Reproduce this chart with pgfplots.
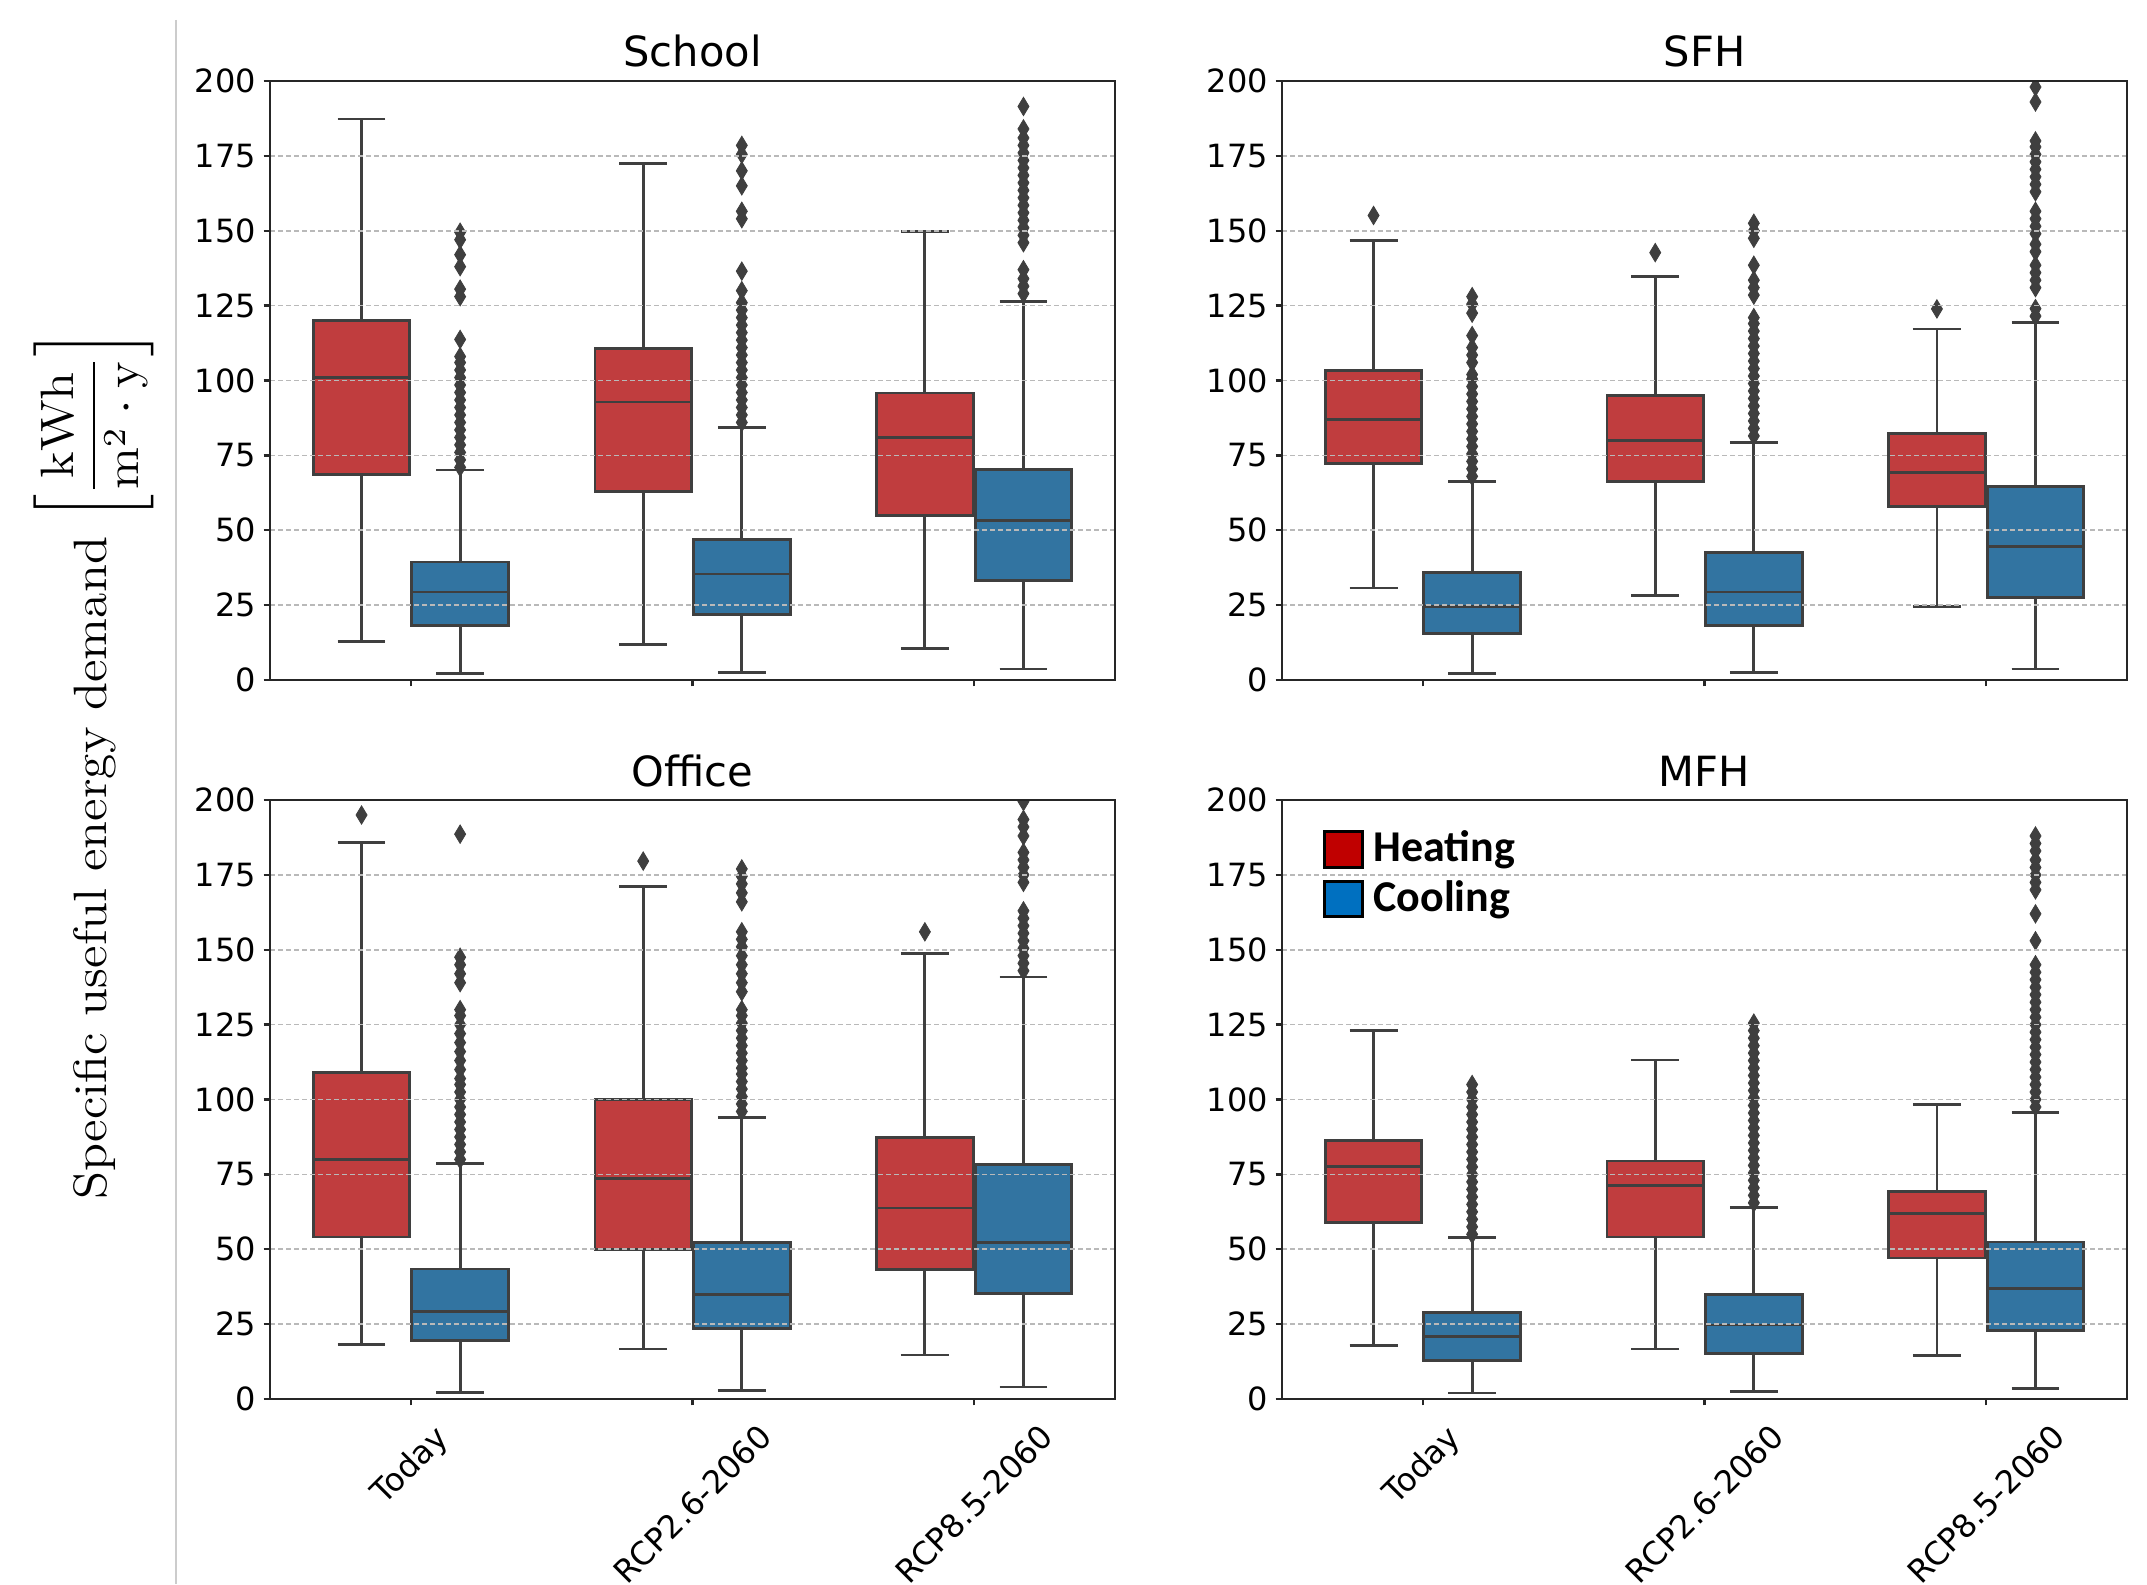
\documentclass[border=0pt]{standalone}
\usepackage{fontspec}
\usepackage{graphicx}
\usepackage{pgfplots}
\usepgfplotslibrary{statistics}
\pgfplotsset{compat=1.18}
\newfontfamily\dejavu{DejaVu Sans}
\newfontfamily\carlito{Carlito}
\definecolor{hred}{HTML}{C03D3E}
\definecolor{cblue}{HTML}{3274A1}
\definecolor{edge}{HTML}{3F3F3F}
\definecolor{legred}{HTML}{C00000}
\definecolor{legblue}{HTML}{0070C0}

\pgfplotsset{
  panel/.style={
    scale only axis, width=211.25pt, height=149.75pt,
    anchor=north west,
    xmin=-0.5, xmax=2.5, ymin=0, ymax=200,
    xtick={0,1,2}, ytick={0,25,...,200},
    tick pos=left,
    tick align=outside, major tick length=1.6pt,
    tick style={black!85, line width=0.6pt},
    axis line style={black!85, line width=0.7pt},
    ymajorgrids, grid style={gray!55, line width=0.4pt, dash pattern=on 1.3pt off 0.7pt},
    axis on top,
    clip marker paths=true,
    /pgf/number format/assume math mode=true,
    yticklabel style={font=\dejavu\fontsize{8}{9}\selectfont, inner sep=0pt, xshift=-1.7pt},
    xticklabel style={font=\dejavu\fontsize{8}{9}\selectfont, inner sep=0pt, anchor=north, yshift=-4.1pt},
    every axis title/.style={font=\dejavu\fontsize{10.4}{12}\selectfont, at={(0.5,1)}, anchor=base, inner sep=0pt, yshift=3.5pt},
  },
  bp/.style={draw=edge, line width=0.7pt, solid, forget plot,
    mark=diamond*, mark size=2.3pt,
    mark options={fill=edge, draw=edge, line width=0.2pt, xscale=0.8},
    /pgfplots/boxplot/draw direction=y,
    /pgfplots/boxplot/box extend=0.343, /pgfplots/boxplot/whisker extend=0.17},
}

\begin{document}
\begin{tikzpicture}
\useasboundingbox (0pt,0pt) rectangle (536.75pt,-396pt);
\draw[black!20, line width=0.4pt] (44pt,-5pt) -- (44pt,-396pt);
\node[rotate=90, inner sep=0pt] at (23.5pt,-191.25pt) {\scalebox{1.1}[1]{\fontsize{11.7}{14}\selectfont Specific useful energy demand $\displaystyle\left[\frac{\mathrm{kWh}}{\mathrm{m}^2\cdot\mathrm{y}}\right]$}};

% ---------------- School ----------------
\begin{axis}[panel, at={(67.5pt,-20.25pt)}, title={School}, xticklabels={,,}]
\addplot[bp, fill=hred, boxplot prepared={draw position=-0.175, lower whisker=12.8, lower quartile=68.7, median=101, upper quartile=120, upper whisker=187.3}] coordinates {};
\addplot[bp, fill=cblue, boxplot prepared={draw position=0.175, lower whisker=2.1, lower quartile=18.2, median=29.4, upper quartile=39.4, upper whisker=70.1}] table[row sep=\\, y index=0] {v\\ 71\\ 73.5\\ 76\\ 78.5\\ 81\\ 83.5\\ 86\\ 88.5\\ 91\\ 93.5\\ 96\\ 98.5\\ 101\\ 103.5\\ 106\\ 108\\ 113.7\\ 128\\ 130.5\\ 138\\ 142\\ 147\\ 149.5\\};
\addplot[bp, fill=hred, boxplot prepared={draw position=0.825, lower whisker=11.9, lower quartile=63, median=92.8, upper quartile=110.7, upper whisker=172.4}] coordinates {};
\addplot[bp, fill=cblue, boxplot prepared={draw position=1.175, lower whisker=2.5, lower quartile=21.9, median=35.4, upper quartile=47, upper whisker=84.2}] table[row sep=\\, y index=0] {v\\ 86\\ 88.5\\ 91\\ 93.5\\ 96\\ 98.5\\ 101\\ 103.5\\ 106\\ 108.5\\ 111\\ 113.5\\ 116\\ 118.5\\ 121\\ 123.5\\ 126\\ 130\\ 136.5\\ 154\\ 156.5\\ 165\\ 170\\ 175.5\\ 178.5\\};
\addplot[bp, fill=hred, boxplot prepared={draw position=1.825, lower whisker=10.4, lower quartile=54.8, median=80.9, upper quartile=95.8, upper whisker=149.7}] coordinates {};
\addplot[bp, fill=cblue, boxplot prepared={draw position=2.175, lower whisker=3.7, lower quartile=33.1, median=53.3, upper quartile=70.4, upper whisker=126.3}] table[row sep=\\, y index=0] {v\\ 129\\ 131.5\\ 134\\ 137\\ 146\\ 148.5\\ 151\\ 153.5\\ 156\\ 158.5\\ 161\\ 163.5\\ 166\\ 168.5\\ 171\\ 173.5\\ 176\\ 178.5\\ 181\\ 184\\ 191.5\\};
\end{axis}

% ---------------- SFH ----------------
\begin{axis}[panel, at={(320.5pt,-20.25pt)}, title={SFH}, xticklabels={,,}]
\addplot[bp, fill=hred, boxplot prepared={draw position=-0.175, lower whisker=30.7, lower quartile=72.4, median=86.9, upper quartile=103.3, upper whisker=146.7}] table[row sep=\\, y index=0] {v\\ 155.1\\};
\addplot[bp, fill=cblue, boxplot prepared={draw position=0.175, lower whisker=2.1, lower quartile=15.5, median=24.5, upper quartile=35.8, upper whisker=66.3}] table[row sep=\\, y index=0] {v\\ 68\\ 70.5\\ 73\\ 75.5\\ 78\\ 80.5\\ 83\\ 85.5\\ 88\\ 90.5\\ 93\\ 95.5\\ 98\\ 100.5\\ 102\\ 106\\ 108.5\\ 111\\ 115\\ 122.5\\ 125.5\\ 128\\};
\addplot[bp, fill=hred, boxplot prepared={draw position=0.825, lower whisker=28.2, lower quartile=66.4, median=79.9, upper quartile=94.9, upper whisker=134.8}] table[row sep=\\, y index=0] {v\\ 142.7\\};
\addplot[bp, fill=cblue, boxplot prepared={draw position=1.175, lower whisker=2.5, lower quartile=18.2, median=29.4, upper quartile=42.7, upper whisker=79.4}] table[row sep=\\, y index=0] {v\\ 81.5\\ 84\\ 86.5\\ 89\\ 91.5\\ 94\\ 96.5\\ 99\\ 101.5\\ 104\\ 106.5\\ 109\\ 111.5\\ 114\\ 116.5\\ 119\\ 121\\ 128.5\\ 131\\ 133.5\\ 138.5\\ 147.5\\ 150\\ 152.5\\};
\addplot[bp, fill=hred, boxplot prepared={draw position=1.825, lower whisker=24.6, lower quartile=57.9, median=69.4, upper quartile=82.4, upper whisker=117.2}] table[row sep=\\, y index=0] {v\\ 123.9\\};
\addplot[bp, fill=cblue, boxplot prepared={draw position=2.175, lower whisker=3.7, lower quartile=27.6, median=44.5, upper quartile=64.5, upper whisker=119.4}] table[row sep=\\, y index=0] {v\\ 121.5\\ 124\\ 131\\ 133.5\\ 136\\ 138.5\\ 143\\ 145.5\\ 149\\ 151.5\\ 154\\ 156.5\\ 163\\ 165.5\\ 168\\ 170.5\\ 173\\ 175.5\\ 178\\ 180\\ 193\\ 198\\ 200.5\\};
\end{axis}

% ---------------- Office ----------------
\begin{axis}[panel, at={(67.5pt,-200pt)}, title={Office},
  xticklabels={\rotatebox{45}{Today},\rotatebox{45}{RCP2.6-2060},\rotatebox{45}{RCP8.5-2060}}]
\addplot[bp, fill=hred, boxplot prepared={draw position=-0.175, lower whisker=18.2, lower quartile=54.1, median=79.9, upper quartile=108.9, upper whisker=185.8}] table[row sep=\\, y index=0] {v\\ 195\\};
\addplot[bp, fill=cblue, boxplot prepared={draw position=0.175, lower whisker=2.2, lower quartile=19.5, median=29.1, upper quartile=43.4, upper whisker=78.6}] table[row sep=\\, y index=0] {v\\ 80\\ 82.5\\ 85\\ 87.5\\ 90\\ 92.5\\ 95\\ 97.5\\ 100\\ 102.5\\ 105\\ 107\\ 110\\ 113\\ 116\\ 119\\ 122\\ 125\\ 128\\ 130\\ 139\\ 142\\ 145\\ 147.5\\ 188.6\\};
\addplot[bp, fill=hred, boxplot prepared={draw position=0.825, lower whisker=16.7, lower quartile=50, median=73.6, upper quartile=100.1, upper whisker=171.2}] table[row sep=\\, y index=0] {v\\ 179.6\\};
\addplot[bp, fill=cblue, boxplot prepared={draw position=1.175, lower whisker=2.8, lower quartile=23.6, median=35, upper quartile=52.3, upper whisker=94}] table[row sep=\\, y index=0] {v\\ 96\\ 98.5\\ 101\\ 103.5\\ 106\\ 108.5\\ 110.5\\ 113\\ 115.5\\ 118\\ 120.5\\ 123\\ 125.5\\ 128\\ 130\\ 136\\ 139\\ 142\\ 145\\ 148\\ 151\\ 153.5\\ 156\\ 166\\ 169\\ 172\\ 174.5\\ 177\\};
\addplot[bp, fill=hred, boxplot prepared={draw position=1.825, lower whisker=14.7, lower quartile=43.2, median=63.8, upper quartile=87.2, upper whisker=148.7}] table[row sep=\\, y index=0] {v\\ 156\\};
\addplot[bp, fill=cblue, boxplot prepared={draw position=2.175, lower whisker=4, lower quartile=35.3, median=52.3, upper quartile=78.2, upper whisker=140.9}] table[row sep=\\, y index=0] {v\\ 143\\ 145.5\\ 148\\ 150.5\\ 153\\ 155.5\\ 158\\ 160.5\\ 163\\ 172.5\\ 175\\ 177.5\\ 180\\ 182.5\\ 188\\ 191\\ 193.5\\ 199.5\\};
\end{axis}

% ---------------- MFH ----------------
\begin{axis}[panel, at={(320.5pt,-200pt)}, title={MFH},
  xticklabels={\rotatebox{45}{Today},\rotatebox{45}{RCP2.6-2060},\rotatebox{45}{RCP8.5-2060}},
  legend image code/.code={\draw[#1, draw=black, line width=0.75pt] (0pt,-4.4pt) rectangle (9.6pt,4.4pt);},
  legend cell align=left,
  legend style={at={(0,1)}, anchor=north west, xshift=10.2pt, yshift=-7.6pt, draw=none, fill=none,
    inner sep=0pt, outer sep=0pt, row sep=2.8pt, column sep=2.3pt,
    nodes={inner sep=0pt, outer sep=0pt},
    font=\carlito\bfseries\fontsize{11}{12}\selectfont}]
\addplot[bp, fill=hred, boxplot prepared={draw position=-0.175, lower whisker=17.8, lower quartile=58.9, median=77.6, upper quartile=86.4, upper whisker=123.1}] coordinates {};
\addplot[bp, fill=cblue, boxplot prepared={draw position=0.175, lower whisker=2.0, lower quartile=12.9, median=20.8, upper quartile=29, upper whisker=53.9}] table[row sep=\\, y index=0] {v\\ 55\\ 57.5\\ 60\\ 62.5\\ 65\\ 67.5\\ 70\\ 72.5\\ 75\\ 77.5\\ 80\\ 82.5\\ 85\\ 87.5\\ 90\\ 92.5\\ 95\\ 97.5\\ 100\\ 102.5\\ 105\\};
\addplot[bp, fill=hred, boxplot prepared={draw position=0.825, lower whisker=16.7, lower quartile=54.1, median=71.2, upper quartile=79.5, upper whisker=113.2}] coordinates {};
\addplot[bp, fill=cblue, boxplot prepared={draw position=1.175, lower whisker=2.6, lower quartile=15.3, median=24.7, upper quartile=34.8, upper whisker=64}] table[row sep=\\, y index=0] {v\\ 65.5\\ 68\\ 70.5\\ 73\\ 75.5\\ 78\\ 80.5\\ 83\\ 85.5\\ 88\\ 90.5\\ 93\\ 95.5\\ 98\\ 100.5\\ 103\\ 105.5\\ 108\\ 110.5\\ 113\\ 115.5\\ 118\\ 120.5\\ 123\\ 125.5\\};
\addplot[bp, fill=hred, boxplot prepared={draw position=1.825, lower whisker=14.5, lower quartile=47.1, median=62, upper quartile=69.2, upper whisker=98.4}] coordinates {};
\addplot[bp, fill=cblue, boxplot prepared={draw position=2.175, lower whisker=3.5, lower quartile=23, median=37, upper quartile=52.4, upper whisker=95.8}] table[row sep=\\, y index=0] {v\\ 97.5\\ 100\\ 102.5\\ 105\\ 107.5\\ 110\\ 112.5\\ 115\\ 117.5\\ 120\\ 122.5\\ 125\\ 127.5\\ 130\\ 132.5\\ 135\\ 137.5\\ 140\\ 142.5\\ 145\\ 153\\ 162\\ 170\\ 172.5\\ 175\\ 177.5\\ 180\\ 183\\ 185.5\\ 188\\};
\addlegendimage{fill=legred}
\addlegendentry{Heating}
\addlegendimage{fill=legblue}
\addlegendentry{Cooling}
\end{axis}
\end{tikzpicture}
\end{document}
